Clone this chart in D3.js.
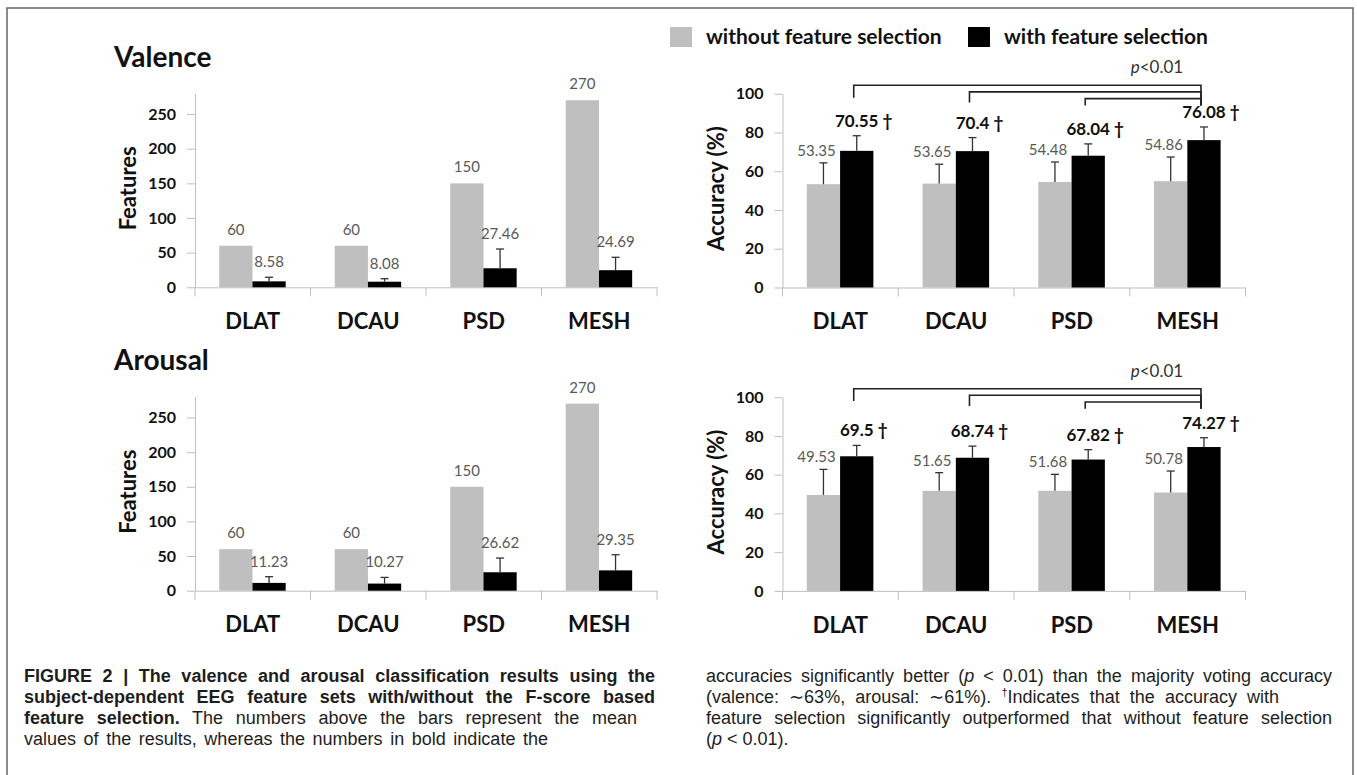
<!DOCTYPE html>
<html>
<head>
<meta charset="utf-8">
<script src="https://cdn.jsdelivr.net/npm/d3@7"></script>
<style>
    body { margin: 0; background: #fff; }
    #chart { position: relative; width: 1357px; height: 775px; overflow: hidden; background: #fff; }
    #chart svg { position: absolute; left: 0; top: 0; }
    svg text { font-family: Lato, "Open Sans", sans-serif; }
    .cap { position: absolute; font-family: "Liberation Sans", Arial, sans-serif; font-size: 18px;
           line-height: 21px; color: #1e1e1e; white-space: nowrap; }
    .cap sup { font-size: 11px; line-height: 0; }
</style>
</head>
<body>
<div id="chart"></div>
<script>

// ---- data ----
const categories = ["DLAT", "DCAU", "PSD", "MESH"];
const seriesKeys = ["without", "with"];
const seriesLabels = ["without feature selection", "with feature selection"];

// number of features (valence / arousal)
const valenceFeatWithout = [60, 60, 150, 270];
const valenceFeatWith = [8.58, 8.08, 27.46, 24.69];
const valenceFeatWithSd = [5.9, 4.3, 27.8, 18.6];

const arousalFeatWithout = [60, 60, 150, 270];
const arousalFeatWith = [11.23, 10.27, 26.62, 29.35];
const arousalFeatWithSd = [9.0, 8.9, 20.5, 22.6];

// accuracy (%)
const valenceAccWithout = [53.35, 53.65, 54.48, 54.86];
const valenceAccWithoutSd = [11.0, 10.0, 10.3, 12.5];
const valenceAccWith = [70.55, 70.4, 68.04, 76.08];
const valenceAccWithSd = [7.8, 7.0, 6.1, 6.8];

const arousalAccWithout = [49.53, 51.65, 51.68, 50.78];
const arousalAccWithoutSd = [13.2, 9.4, 8.5, 11.1];
const arousalAccWith = [69.5, 68.74, 67.82, 74.27];
const arousalAccWithSd = [5.6, 6.0, 5.1, 4.8];

const featureTicks = [0, 50, 100, 150, 200, 250];
const accuracyTicks = [0, 20, 40, 60, 80, 100];

// significance brackets (accuracy units)
const sigPairs = [["DLAT", "MESH"], ["DCAU", "MESH"], ["PSD", "MESH"]];
const bracketLevels = [104.4, 101.0, 97.5];
const bracketDrops = [98.0, 95.5, 94.0];
const bracketRightDrop = 94.0;
const pLabelLevel = 110.5;

const captionLeft = [
    "<b>FIGURE 2 | The valence and arousal classification results using the</b>",
    "<b>subject-dependent EEG feature sets with/without the F-score based</b>",
    "<b>feature selection.</b> The numbers above the bars represent the mean",
    "values of the results, whereas the numbers in bold indicate the"
];
const captionRight = [
    "accuracies significantly better (<i>p</i> &lt; 0.01) than the majority voting accuracy",
    "(valence: ∼63%, arousal: ∼61%). <sup>†</sup>Indicates that the accuracy with",
    "feature selection significantly outperformed that without feature selection",
    "(<i>p</i> &lt; 0.01)."
];


const W = 1357, H = 775;
const grey = "#bfbfbf";

let svg = d3.select("#chart").append("svg")
    .attr("width", W)
    .attr("height", H);

// frame around the figure (open at the bottom)
svg.append("path")
    .attr("d", `M7,${H} V8 H1353 V${H}`)
    .attr("fill", "none")
    .attr("stroke", "#666")
    .attr("stroke-width", 1.5);


class BarPanel {

    constructor(parent, cfg) {
        this.parent = parent;
        this.cfg = cfg;
        this.initVis();
    }

    initVis() {
        let vis = this;
        let cfg = vis.cfg;

        vis.g = vis.parent.append("g")
            .attr("transform", `translate(0, ${cfg.offsetY})`);

        vis.x = d3.scaleBand()
            .domain(categories)
            .range([cfg.left, cfg.right]);

        let bw = vis.x.bandwidth();
        vis.xSub = d3.scaleBand()
            .domain(seriesKeys)
            .range([bw * 0.21, bw * 0.785]);

        vis.y = d3.scaleLinear()
            .domain([0, cfg.yMax])
            .range([cfg.y0, cfg.yTop]);

        // y axis
        let yAxis = d3.axisLeft(vis.y)
            .tickValues(cfg.ticks)
            .tickSize(8)
            .tickSizeOuter(0)
            .tickPadding(11);

        let ya = vis.g.append("g")
            .attr("transform", `translate(${cfg.left}, 0)`)
            .call(yAxis);
        ya.select(".domain").attr("stroke", grey);
        ya.selectAll(".tick line").attr("stroke", grey);
        ya.selectAll(".tick text")
            .attr("font-family", "Lato, sans-serif")
            .attr("font-size", 16)
            .attr("font-weight", "bold")
            .attr("fill", "#111");

        // x axis, labels in the middle, ticks between groups
        let xAxis = d3.axisBottom(vis.x)
            .tickSize(0)
            .tickPadding(26);

        let xa = vis.g.append("g")
            .attr("transform", `translate(0, ${cfg.y0})`)
            .call(xAxis);
        xa.select(".domain").attr("stroke", grey);
        xa.selectAll(".tick text")
            .attr("font-family", "Lato, sans-serif")
            .attr("font-size", 22)
            .attr("font-weight", "bold")
            .attr("fill", "#111");

        let bounds = categories.map(c => vis.x(c)).concat([cfg.right]);
        xa.selectAll(".bound")
            .data(bounds)
            .enter()
            .append("line")
            .attr("class", "bound")
            .attr("x1", d => d).attr("x2", d => d)
            .attr("y1", 0).attr("y2", 9)
            .attr("stroke", grey);

        // axis title
        vis.g.append("text")
            .attr("transform", `translate(${cfg.titleX}, ${(cfg.y0 + cfg.yTop) / 2 - 2}) rotate(-90)`)
            .attr("text-anchor", "middle")
            .attr("dy", "0.35em")
            .attr("font-size", 22)
            .attr("font-weight", "bold")
            .attr("fill", "#111")
            .text(cfg.yTitle);

        if (cfg.heading) {
            vis.g.append("text")
                .attr("x", cfg.left - 81)
                .attr("y", 67)
                .attr("font-size", 28)
                .attr("font-weight", "bold")
                .attr("fill", "#111")
                .text(cfg.heading);
        }

        vis.wrangleData();
    }

    wrangleData() {
        let vis = this;
        let cfg = vis.cfg;

        vis.rows = [];
        categories.forEach((c, i) => {
            vis.rows.push({cat: c, key: "without", value: cfg.without[i], sd: cfg.withoutSd ? cfg.withoutSd[i] : null});
            vis.rows.push({cat: c, key: "with", value: cfg.with[i], sd: cfg.withSd[i]});
        });

        vis.updateVis();
    }

    updateVis() {
        let vis = this;
        let cfg = vis.cfg;
        let bw = vis.xSub.bandwidth();

        let cx = d => vis.x(d.cat) + vis.xSub(d.key) + bw / 2;
        let isBold = d => cfg.accuracy && d.key === "with";

        vis.g.selectAll(".bar")
            .data(vis.rows)
            .enter()
            .append("rect")
            .attr("class", "bar")
            .attr("x", d => vis.x(d.cat) + vis.xSub(d.key))
            .attr("y", d => vis.y(d.value))
            .attr("width", bw)
            .attr("height", d => vis.y(0) - vis.y(d.value))
            .attr("fill", d => d.key === "with" ? "#000" : grey);

        // error bars - only the upper half, like excel "plus"
        let errRows = vis.rows.filter(d => d.sd !== null);
        let eb = vis.g.selectAll(".err")
            .data(errRows)
            .enter()
            .append("g")
            .attr("class", "err");
        eb.append("line")
            .attr("x1", cx).attr("x2", cx)
            .attr("y1", d => vis.y(d.value))
            .attr("y2", d => vis.y(d.value + d.sd))
            .attr("stroke", "#333")
            .attr("stroke-width", 1.3);
        eb.append("line")
            .attr("x1", d => cx(d) - 4).attr("x2", d => cx(d) + 4)
            .attr("y1", d => vis.y(d.value + d.sd))
            .attr("y2", d => vis.y(d.value + d.sd))
            .attr("stroke", "#333")
            .attr("stroke-width", 1.3);

        // value labels
        vis.g.selectAll(".val")
            .data(vis.rows)
            .enter()
            .append("text")
            .attr("class", "val")
            .attr("text-anchor", "middle")
            .attr("x", d => {
                if (!cfg.accuracy) return cx(d);
                return d.key === "with" ? cx(d) + 7 : cx(d) - 7;
            })
            .attr("y", d => {
                let top = d.sd !== null ? vis.y(d.value + d.sd) : vis.y(d.value);
                if (cfg.accuracy) return d.key === "with" ? top - 9 : top - 7;
                return d.sd !== null ? top - 10 : top - 11;
            })
            .attr("font-size", d => isBold(d) ? 17 : 15)
            .attr("font-weight", d => isBold(d) ? "bold" : "normal")
            .attr("fill", d => isBold(d) ? "#111" : "#595959")
            .text(d => isBold(d) ? d.value + " †" : d.value);

        if (cfg.accuracy) vis.drawBrackets();
    }

    drawBrackets() {
        let vis = this;
        let bw = vis.xSub.bandwidth();
        let bx = c => vis.x(c) + vis.xSub("with") + bw / 2 - 3;

        vis.g.selectAll(".bracket")
            .data(sigPairs)
            .enter()
            .append("path")
            .attr("class", "bracket")
            .attr("d", (p, i) => `M${bx(p[0])},${vis.y(bracketDrops[i])} V${vis.y(bracketLevels[i])} H${bx(p[1])} V${vis.y(bracketRightDrop)}`)
            .attr("fill", "none")
            .attr("stroke", "#222")
            .attr("stroke-width", 1.6);

        let pt = vis.g.append("text")
            .attr("x", bx("MESH") - 44)
            .attr("y", vis.y(pLabelLevel))
            .attr("text-anchor", "middle")
            .attr("font-size", 17)
            .attr("fill", "#333");
        pt.append("tspan").attr("font-style", "italic").text("p");
        pt.append("tspan").text("<0.01");
    }
}

const rowShift = 303.4;
const featLeft = {left: 195, right: 657, y0: 287.3, yTop: 93.3, yMax: 280, ticks: featureTicks,
    titleX: 128, yTitle: "Features", accuracy: false};
const accRight = {left: 782.5, right: 1245.5, y0: 287.5, yTop: 93.8, yMax: 100, ticks: accuracyTicks,
    titleX: 716, yTitle: "Accuracy (%)", accuracy: true};

new BarPanel(svg, Object.assign({}, featLeft, {offsetY: 0, heading: "Valence",
    without: valenceFeatWithout, withoutSd: null, with: valenceFeatWith, withSd: valenceFeatWithSd}));
new BarPanel(svg, Object.assign({}, featLeft, {offsetY: rowShift, heading: "Arousal",
    without: arousalFeatWithout, withoutSd: null, with: arousalFeatWith, withSd: arousalFeatWithSd}));
new BarPanel(svg, Object.assign({}, accRight, {offsetY: 0,
    without: valenceAccWithout, withoutSd: valenceAccWithoutSd, with: valenceAccWith, withSd: valenceAccWithSd}));
new BarPanel(svg, Object.assign({}, accRight, {offsetY: rowShift,
    without: arousalAccWithout, withoutSd: arousalAccWithoutSd, with: arousalAccWith, withSd: arousalAccWithSd}));

// legend (top right only)
let legend = svg.append("g").attr("class", "legend");
let legX = [670, 968];
seriesKeys.forEach((k, i) => {
    legend.append("rect")
        .attr("x", legX[i]).attr("y", 27)
        .attr("width", 22).attr("height", 20)
        .attr("fill", k === "with" ? "#000" : grey);
    legend.append("text")
        .attr("x", legX[i] + 36).attr("y", 44)
        .attr("font-size", 21)
        .attr("font-weight", "bold")
        .attr("fill", "#111")
        .text(seriesLabels[i]);
});

// caption, two columns. justified lines get their word spacing measured
let chart = d3.select("#chart");
let capLeftW = [631, 631, 613, 524];
let capRightW = [626, 573, 626, 0];
function addCaption(lines, x, widths) {
    lines.forEach((l, i) => {
        let div = chart.append("div")
            .attr("class", "cap")
            .style("left", x + "px")
            .style("top", (666 + i * 21) + "px")
            .html(l);
        if (widths[i] > 0) {
            let node = div.node();
            let w = node.getBoundingClientRect().width;
            let gaps = (node.textContent.match(/ /g) || []).length;
            if (gaps > 0) div.style("word-spacing", ((widths[i] - w) / gaps) + "px");
        }
    });
}
addCaption(captionLeft, 24, capLeftW);
addCaption(captionRight, 706, capRightW);

</script>
</body>
</html>
